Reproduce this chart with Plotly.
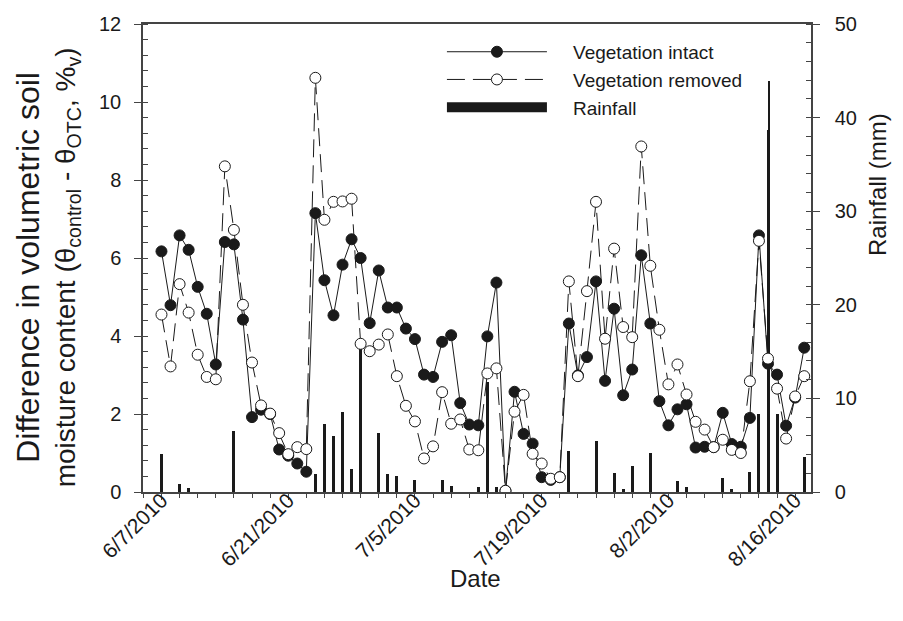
import plotly.graph_objects as go
import pandas as pd

# ---- data ----
dates = pd.date_range("2010-06-07", "2010-08-17", freq="D").strftime("%Y-%m-%d").tolist()

intact = [6.17, 4.79, 6.58, 6.21, 5.26, 4.57, 3.27, 6.41, 6.35, 4.42,
          1.92, 2.11, 2.00, 1.09, 0.93, 0.73, 0.52, 7.15, 5.43, 4.53,
          5.83, 6.48, 6.00, 4.33, 5.68, 4.73, 4.73, 4.19, 3.92, 3.01,
          2.95, 3.85, 4.02, 2.28, 1.73, 1.71, 3.99, 5.37, 0.03, 2.57,
          1.49, 1.24, 0.38, 0.31, 0.38, 4.32, 2.99, 3.46, 5.40, 2.85,
          4.70, 2.48, 3.14, 6.07, 4.32, 2.33, 1.71, 2.12, 2.25, 1.14,
          1.16, 1.15, 2.03, 1.23, 1.16, 1.90, 6.58, 3.29, 3.01, 1.70,
          2.42, 3.70]

removed = [4.55, 3.22, 5.33, 4.60, 3.52, 2.95, 2.89, 8.35, 6.72, 4.80,
           3.32, 2.22, 2.01, 1.51, 0.97, 1.15, 1.10, 10.62, 6.98, 7.44,
           7.45, 7.52, 3.80, 3.61, 3.78, 4.04, 2.97, 2.21, 1.81, 0.86,
           1.17, 2.56, 1.75, 1.86, 1.09, 1.07, 3.04, 3.17, 0.03, 2.06,
           2.49, 0.98, 0.73, 0.34, 0.38, 5.40, 2.97, 5.15, 7.44, 3.93,
           6.24, 4.23, 3.97, 8.86, 5.80, 4.16, 2.76, 3.27, 2.50, 1.80,
           1.60, 1.15, 1.34, 1.08, 1.00, 2.84, 6.44, 3.42, 2.65, 1.37,
           2.45, 2.97]

rain_dates = ["2010-06-07", "2010-06-09", "2010-06-10", "2010-06-15", "2010-06-24",
              "2010-06-25", "2010-06-26", "2010-06-27", "2010-06-28", "2010-06-29",
              "2010-07-01", "2010-07-02", "2010-07-03", "2010-07-05", "2010-07-08",
              "2010-07-09", "2010-07-12", "2010-07-13", "2010-07-14", "2010-07-22",
              "2010-07-25", "2010-07-27", "2010-07-28", "2010-07-29", "2010-07-31",
              "2010-08-03", "2010-08-04", "2010-08-08", "2010-08-09", "2010-08-11",
              "2010-08-12", "2010-08-13", "2010-08-13 04:00", "2010-08-14", "2010-08-17"]
rain_mm = [4.1, 0.9, 0.45, 6.5, 1.9,
           7.3, 6.0, 8.5, 2.5, 15.7,
           6.3, 1.9, 1.7, 1.25, 1.25,
           0.65, 0.5, 11.8, 0.5, 4.35,
           5.5, 2.0, 0.35, 2.8, 4.2,
           1.15, 0.5, 1.5, 0.35, 2.1,
           8.3, 38.7, 43.9, 8.3, 3.7]

x_tick_start = "2010-06-07"
DAY = 86400000

FONT = "Liberation Sans, Arial, Helvetica, sans-serif"
INK = "#1a1a1a"
AX = "#444444"
GAP = "\u00a0\u00a0\u00a0\u00a0"  # spacing between legend symbol and label

bar_widths = [0.13 * DAY if ":" in d else 0.33 * DAY for d in rain_dates]

fig = go.Figure()
fig.add_trace(go.Bar(
    x=rain_dates, y=rain_mm, yaxis="y", name="Rainfall", showlegend=False,
    width=bar_widths, marker=dict(color=INK, line=dict(width=0)),
))
fig.add_trace(go.Scatter(
    x=dates, y=intact, yaxis="y2", mode="lines+markers", name=GAP + "Vegetation intact",
    line=dict(color=INK, width=1),
    marker=dict(symbol="circle", size=11, color=INK, line=dict(color=INK, width=1)),
))
fig.add_trace(go.Scatter(
    x=dates, y=removed, yaxis="y2", mode="lines+markers", name=GAP + "Vegetation removed",
    line=dict(color=INK, width=1, dash="18px,8px"),
    marker=dict(symbol="circle", size=11, color="white", line=dict(color=INK, width=1)),
))
# legend proxy for rainfall (wide filled bar symbol)
fig.add_trace(go.Scatter(
    x=[None], y=[None], yaxis="y2", mode="lines", name=GAP + "Rainfall",
    line=dict(color=INK, width=15),
))

left_title = ("<span style='font-size:32px'>Difference in volumetric soil</span><br>"
              "moisture content (θ<sub>control</sub> - θ<sub>OTC</sub>, %<sub>v</sub>)")

fig.update_layout(
    width=887, height=605,
    margin=dict(l=135, r=84, t=16, b=121),
    plot_bgcolor="white", paper_bgcolor="white",
    font=dict(family=FONT, color=INK, size=18),
    bargap=0,
    xaxis=dict(
        type="date", range=["2010-06-04 23:00", "2010-08-17 18:00"], automargin=False,
        tick0=x_tick_start, dtick=14 * DAY, tickformat="%-m/%-d/%Y", tickangle=-45,
        ticks="outside", ticklen=6, tickwidth=1.2, tickcolor=AX, ticklabelstandoff=-20,
        showline=True, linecolor=AX, linewidth=1.5, mirror=True,
        showgrid=False, zeroline=False,
        tickfont=dict(size=21),
        minor=dict(tick0=x_tick_start, dtick=2 * DAY, ticks="outside", ticklen=4,
                   tickwidth=1, tickcolor=AX, showgrid=False),
    ),
    yaxis=dict(
        side="right", range=[0, 50], dtick=10, automargin=False,
        ticks="outside", ticklen=7, tickwidth=1.2, tickcolor=AX, ticklabelstandoff=11,
        showline=True, linecolor=AX, linewidth=1.5,
        showgrid=False, zeroline=False, tickfont=dict(size=20),
        minor=dict(dtick=2, ticks="inside", ticklen=5, tickwidth=1, tickcolor=AX, showgrid=False),
    ),
    yaxis2=dict(
        side="left", overlaying="y", range=[0, 12], dtick=2, automargin=False,
        ticks="outside", ticklen=7, tickwidth=1.2, tickcolor=AX, ticklabelstandoff=9,
        showline=True, linecolor=AX, linewidth=1.5,
        showgrid=False, zeroline=False, tickfont=dict(size=20),
        minor=dict(dtick=0.4, ticks="inside", ticklen=5, tickwidth=1, tickcolor=AX, showgrid=False),
    ),
    legend=dict(
        x=0.4475, y=0.981, xanchor="left", yanchor="top",
        itemwidth=100, font=dict(size=19), bgcolor="rgba(0,0,0,0)",
        borderwidth=0, tracegroupgap=0,
    ),
    annotations=[
        dict(text="Date", xref="paper", yref="paper", x=0.4985, y=-0.184,
             xanchor="center", yanchor="middle", showarrow=False,
             font=dict(size=24, color=INK)),
        dict(text="Rainfall (mm)", xref="paper", yref="paper", x=1.1003, y=0.656,
             xanchor="center", yanchor="middle", textangle=-90, showarrow=False,
             font=dict(size=24, color=INK)),
        dict(text=left_title, xref="paper", yref="paper", x=-0.1437, y=0.48,
             xanchor="center", yanchor="middle", textangle=-90, showarrow=False,
             font=dict(size=28, color=INK)),
    ],
)

fig.write_html("out.html")
